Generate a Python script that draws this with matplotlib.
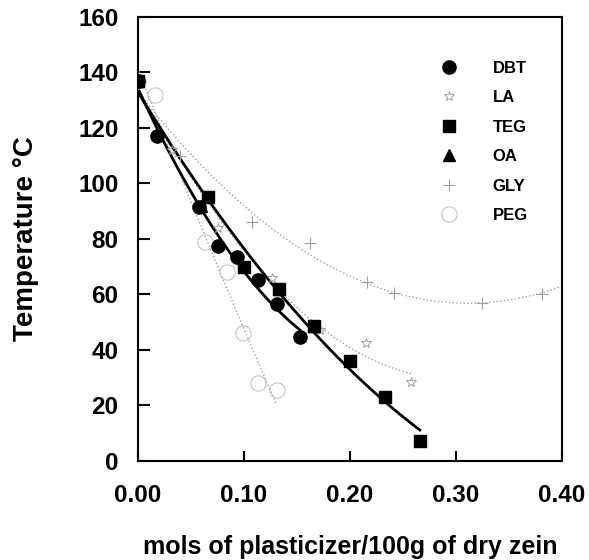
"""Glass transition temperature of zein vs. plasticizer content."""

import matplotlib

matplotlib.use("Agg")

import matplotlib.pyplot as plt  # noqa: E402
import numpy as np  # noqa: E402

plt.rcParams["font.family"] = ["Liberation Sans", "DejaVu Sans"]
plt.rcParams["font.weight"] = "bold"

# mols plasticizer / 100 g dry zein  vs  Tg (deg C)
dbt_x = [0.0, 0.018, 0.058, 0.076, 0.094, 0.113, 0.131, 0.153]
dbt_y = [137, 117, 91.5, 77.5, 73.5, 65, 56.5, 44.5]

la_x = [0.0, 0.032, 0.076, 0.127, 0.172, 0.215, 0.258]
la_y = [137, 112, 84, 66, 47, 42.5, 28.5]

teg_x = [0.0, 0.066, 0.100, 0.133, 0.166, 0.200, 0.233, 0.266]
teg_y = [137, 95, 70, 62, 48.5, 36, 23, 7]

oa_x = [0.0, 0.060, 0.133, 0.166]
oa_y = [137, 92, 62, 48.5]

gly_x = [0.0, 0.040, 0.108, 0.162, 0.216, 0.242, 0.325, 0.381]
gly_y = [137, 110, 86, 78.5, 64.5, 60.5, 57, 60]

peg_x = [0.0, 0.016, 0.063, 0.084, 0.099, 0.113, 0.131]
peg_y = [137, 132, 79, 68, 46, 28, 25.5]

GRAY = "#a0a0a0"


def fit_curve(ax, xs, ys, x_end, color, lw, ls):
    coef = np.polyfit(xs, ys, 2)
    xx = np.linspace(0, x_end, 200)
    ax.plot(xx, np.polyval(coef, xx), color=color, lw=lw, ls=ls, zorder=2)


fig = plt.figure(figsize=(5.89, 5.60), dpi=100)
ax = fig.add_axes([0.234, 0.177, 0.720, 0.793])

fit_curve(ax, gly_x, gly_y, 0.40, GRAY, 1.0, ":")
fit_curve(ax, la_x, la_y, 0.26, GRAY, 1.0, ":")
fit_curve(ax, peg_x, peg_y, 0.131, GRAY, 1.0, ":")
fit_curve(ax, dbt_x, dbt_y, 0.153, "black", 2.0, "-")
fit_curve(ax, teg_x + oa_x[1:], teg_y + oa_y[1:], 0.266, "black", 2.0, "-")

ax.plot(dbt_x, dbt_y, "o", color="black", ms=9.5, ls="none", label="DBT", zorder=4)
ax.plot(la_x, la_y, "*", mfc="none", mec=GRAY, mew=0.7, ms=7, ls="none", label="LA", zorder=3)
ax.plot(teg_x, teg_y, "s", color="black", ms=8.5, ls="none", label="TEG", zorder=4)
ax.plot(oa_x, oa_y, "^", color="black", ms=8.5, ls="none", label="OA", zorder=4)
ax.plot(gly_x, gly_y, "+", color=GRAY, mew=0.8, ms=8, ls="none", label="GLY", zorder=3)
ax.plot(peg_x, peg_y, "o", mfc="none", mec="#bdbdbd", mew=0.7, ms=11, ls="none",
        label="PEG", zorder=3)

ax.set_xlim(0, 0.40)
ax.set_ylim(0, 160)
ax.set_xticks([0.0, 0.1, 0.2, 0.3, 0.4])
ax.set_xticklabels(["0.00", "0.10", "0.20", "0.30", "0.40"])
ax.set_yticks(np.arange(0, 161, 20))

for side in ax.spines.values():
    side.set_linewidth(1.5)
ax.tick_params(axis="both", direction="in", width=1.5, labelsize=17.5)
ax.tick_params(axis="x", length=7, pad=17)
ax.tick_params(axis="y", length=8.5, pad=14)

ax.set_xlabel("mols of plasticizer/100g of dry zein", fontsize=18,
              fontweight="bold", labelpad=20)
ax.set_ylabel("Temperature °C", fontsize=20, fontweight="bold", labelpad=28)

ax.legend(loc="upper left", bbox_to_anchor=(0.679, 0.935), frameon=False,
          handlelength=1.0, handletextpad=2.1, labelspacing=0.87,
          prop={"weight": "bold", "size": 12})

fig.savefig("out.png", dpi=100)
